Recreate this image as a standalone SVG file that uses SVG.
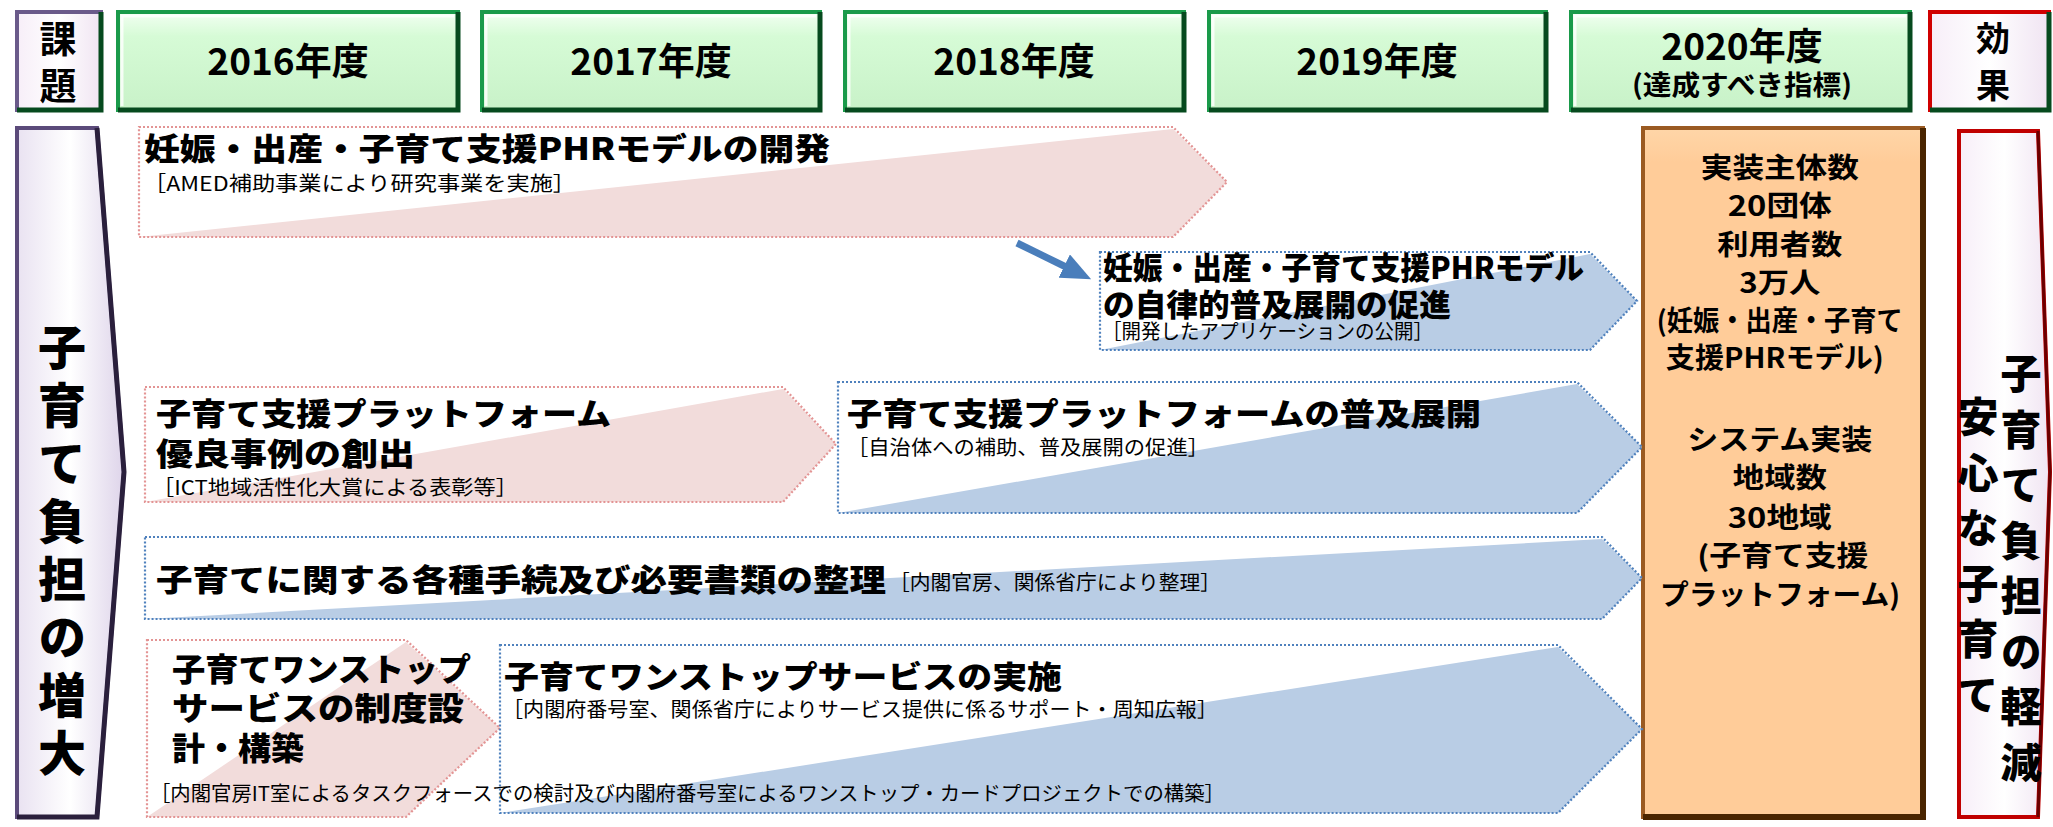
<svg xmlns="http://www.w3.org/2000/svg" width="2053" height="827" viewBox="0 0 2053 827">
<defs>
<linearGradient id="gG" x1="0" y1="0" x2="0" y2="1">
<stop offset="0" stop-color="#f2fff2"/><stop offset="0.25" stop-color="#d6fbd6"/><stop offset="1" stop-color="#c8f2c8"/>
</linearGradient>
<linearGradient id="gP" x1="0" y1="0" x2="1" y2="0">
<stop offset="0" stop-color="#e9e2f1"/><stop offset="0.5" stop-color="#ffffff"/><stop offset="1" stop-color="#ded4ea"/>
</linearGradient>
<linearGradient id="gR" x1="0" y1="0" x2="1" y2="0">
<stop offset="0" stop-color="#f7eef8"/><stop offset="0.5" stop-color="#ffffff"/><stop offset="1" stop-color="#f0e4f2"/>
</linearGradient>
<linearGradient id="gO" x1="0" y1="0" x2="0" y2="1">
<stop offset="0" stop-color="#ffd6a8"/><stop offset="0.05" stop-color="#ffcc99"/><stop offset="1" stop-color="#ffcc99"/>
</linearGradient>
<marker id="ah" markerUnits="userSpaceOnUse" markerWidth="30" markerHeight="26" refX="2" refY="13" orient="auto">
<path d="M0,0 L30,13 L0,26 Z" fill="#4a7ebb"/>
</marker>
</defs>
<style>
.t{font-family:"Noto Sans CJK JP","Noto Sans",sans-serif;fill:#000}
.b{font-weight:bold}
.yb{fill:url(#gG);stroke:#1a9a4a;stroke-width:4}
.ys{fill:none;stroke:#064a1e;stroke-width:5}
.hl{fill:none;stroke:#ffffff;stroke-opacity:0.8;stroke-width:3}
.pk{fill:#f2dcdb}
.bl{fill:#b9cde5}
.pko{fill:none;stroke:#e39494;stroke-width:2.2;stroke-dasharray:2 2}
.blo{fill:none;stroke:#4f81bd;stroke-width:2.2;stroke-dasharray:2 2}
.h{font-size:37px}
.ti{font-size:31px;font-weight:900}
.su{font-size:20px;font-weight:normal}
.or{font-size:28px}
.v{writing-mode:vertical-rl;font-weight:900}
</style>
<rect width="2053" height="827" fill="#ffffff"/>

<g id="hdr-kadai">
<rect x="17" y="12" width="84" height="98" fill="url(#gR)" stroke="#6a5a8a" stroke-width="4"/>
<polyline class="ys" points="101,12 101,110 17,110" stroke="#2e2342"/>
<text class="t b h" text-anchor="middle"><tspan x="58" y="53">課</tspan><tspan x="58" y="100">題</tspan></text>
</g>

<g id="hdr-2016">
<rect class="yb" x="118" y="12" width="340" height="98"/>
<polyline class="hl" points="122,106 122,16 454,16"/>
<polyline class="ys" points="458,12 458,110 118,110"/>
<text class="t b h" x="288" y="75" text-anchor="middle">2016年度</text>
</g>
<g id="hdr-2017">
<rect class="yb" x="482" y="12" width="338" height="98"/>
<polyline class="hl" points="486,106 486,16 816,16"/>
<polyline class="ys" points="820,12 820,110 482,110"/>
<text class="t b h" x="651" y="75" text-anchor="middle">2017年度</text>
</g>
<g id="hdr-2018">
<rect class="yb" x="845" y="12" width="339" height="98"/>
<polyline class="hl" points="849,106 849,16 1180,16"/>
<polyline class="ys" points="1184,12 1184,110 845,110"/>
<text class="t b h" x="1014" y="75" text-anchor="middle">2018年度</text>
</g>
<g id="hdr-2019">
<rect class="yb" x="1209" y="12" width="337" height="98"/>
<polyline class="hl" points="1213,106 1213,16 1542,16"/>
<polyline class="ys" points="1546,12 1546,110 1209,110"/>
<text class="t b h" x="1377" y="75" text-anchor="middle">2019年度</text>
</g>
<g id="hdr-2020">
<rect class="yb" x="1571" y="12" width="339" height="98"/>
<polyline class="hl" points="1575,106 1575,16 1906,16"/>
<polyline class="ys" points="1910,12 1910,110 1571,110"/>
<text class="t b" text-anchor="middle"><tspan x="1742" y="60" font-size="37">2020年度</tspan><tspan x="1742" y="95" font-size="27" textLength="220" lengthAdjust="spacingAndGlyphs">(達成すべき指標)</tspan></text>
</g>
<g id="hdr-kouka">
<rect x="1930" y="12" width="119" height="98" fill="url(#gR)" stroke="#d00000" stroke-width="4"/>
<polyline class="ys" points="2049,12 2049,110 1930,110" stroke="#8a0000" stroke-width="3"/>
<text class="t b" font-size="34" text-anchor="middle"><tspan x="1993" y="51">効</tspan><tspan x="1993" y="98">果</tspan></text>
</g>

<g id="panel-left">
<polygon points="17,128 97,128 124,472 97,817 17,817" fill="url(#gP)" stroke="#5b4a7a" stroke-width="4"/>
<polyline points="97,128 124,472 97,817 17,817" fill="none" stroke="#2a1f3c" stroke-width="5"/>
<text class="t v" font-size="48" letter-spacing="10" x="62" y="323">子育て負担の増大</text>
</g>

<g id="box-target">
<rect x="1643" y="128" width="280" height="689" fill="url(#gO)" stroke="#9a5a22" stroke-width="4"/>
<polyline points="1923,128 1923,817 1643,817" fill="none" stroke="#4a2500" stroke-width="6"/>
<text class="t b or" text-anchor="middle">
<tspan x="1783" y="178" textLength="158" lengthAdjust="spacingAndGlyphs">実装主体数</tspan>
<tspan x="1783" y="216" textLength="104" lengthAdjust="spacingAndGlyphs">20団体</tspan>
<tspan x="1783" y="255" textLength="125" lengthAdjust="spacingAndGlyphs">利用者数</tspan>
<tspan x="1783" y="293" textLength="81" lengthAdjust="spacingAndGlyphs">3万人</tspan>
<tspan x="1783" y="331" textLength="246" lengthAdjust="spacingAndGlyphs">(妊娠・出産・子育て</tspan>
<tspan x="1778" y="368" textLength="218" lengthAdjust="spacingAndGlyphs">支援PHRモデル)</tspan>
<tspan x="1783" y="450" textLength="185" lengthAdjust="spacingAndGlyphs">システム実装</tspan>
<tspan x="1783" y="488" textLength="94" lengthAdjust="spacingAndGlyphs">地域数</tspan>
<tspan x="1783" y="528" textLength="104" lengthAdjust="spacingAndGlyphs">30地域</tspan>
<tspan x="1786" y="566" textLength="171" lengthAdjust="spacingAndGlyphs">(子育て支援</tspan>
<tspan x="1780" y="605" textLength="240" lengthAdjust="spacingAndGlyphs">プラットフォーム)</tspan>
</text>
</g>

<g id="panel-right">
<polygon points="1959,131 2038,131 2050,472 2038,817 1959,817" fill="url(#gR)" stroke="#c00000" stroke-width="4"/>
<polyline points="2038,131 2050,472 2038,817" fill="none" stroke="#6a0000" stroke-width="3"/>
<text class="t v" font-size="41" letter-spacing="14.5" x="2021" y="353">子育て負担の軽減</text>
<text class="t v" font-size="41" letter-spacing="14.5" x="1978" y="396">安心な子育て</text>
</g>

<g id="phr-dev">
<polygon class="pk" points="139,237 1173,129 1227,182 1173,237"/>
<polygon class="pko" points="139,127 1173,127 1227,182 1173,237 139,237"/>
<text class="t"><tspan class="ti" x="144" y="160" textLength="686" lengthAdjust="spacingAndGlyphs">妊娠・出産・子育て支援PHRモデルの開発</tspan><tspan class="su" x="143" y="191" textLength="433" lengthAdjust="spacingAndGlyphs">［AMED補助事業により研究事業を実施］</tspan></text>
</g>

<g id="phr-spread">
<polygon class="bl" points="1100,350 1590,254 1637,301 1590,350"/>
<polygon class="blo" points="1100,252 1590,252 1637,301 1590,350 1100,350"/>
<text class="t"><tspan class="ti" x="1103" y="279" textLength="481" lengthAdjust="spacingAndGlyphs">妊娠・出産・子育て支援PHRモデル</tspan><tspan class="ti" x="1103" y="316" textLength="348" lengthAdjust="spacingAndGlyphs">の自律的普及展開の促進</tspan><tspan class="su" x="1102" y="339" textLength="331" lengthAdjust="spacingAndGlyphs">［開発したアプリケーションの公開］</tspan></text>
</g>

<g id="pf-best">
<polygon class="pk" points="145,502 783,389 836,444 783,502"/>
<polygon class="pko" points="145,387 783,387 836,444 783,502 145,502"/>
<text class="t"><tspan class="ti" x="156" y="425" textLength="455" lengthAdjust="spacingAndGlyphs">子育て支援プラットフォーム</tspan><tspan class="ti" x="156" y="465" textLength="259" lengthAdjust="spacingAndGlyphs">優良事例の創出</tspan><tspan class="su" x="152" y="495" textLength="366" lengthAdjust="spacingAndGlyphs">［ICT地域活性化大賞による表彰等］</tspan></text>
</g>

<g id="pf-spread">
<polygon class="bl" points="838,513 1577,384 1642,447 1577,513"/>
<polygon class="blo" points="838,382 1577,382 1642,447 1577,513 838,513"/>
<text class="t"><tspan class="ti" x="847" y="425" textLength="634" lengthAdjust="spacingAndGlyphs">子育て支援プラットフォームの普及展開</tspan><tspan class="su" x="847" y="455" textLength="362" lengthAdjust="spacingAndGlyphs">［自治体への補助、普及展開の促進］</tspan></text>
</g>

<g id="procedures">
<polygon class="bl" points="145,619 1602,539 1642,578 1602,619"/>
<polygon class="blo" points="145,537 1602,537 1642,578 1602,619 145,619"/>
<text class="t"><tspan class="ti" x="156" y="591" textLength="730" lengthAdjust="spacingAndGlyphs">子育てに関する各種手続及び必要書類の整理</tspan><tspan class="su" x="889" y="590" textLength="332" lengthAdjust="spacingAndGlyphs">［内閣官房、関係省庁により整理］</tspan></text>
</g>

<g id="onestop-design">
<polygon class="pk" points="147,817 406,642 500,728 406,817"/>
<polygon class="pko" points="147,640 406,640 500,728 406,817 147,817"/>
<text class="t" font-size="32" font-weight="900"><tspan x="172" y="681" textLength="299" lengthAdjust="spacingAndGlyphs">子育てワンストップ</tspan><tspan x="172" y="720" textLength="292" lengthAdjust="spacingAndGlyphs">サービスの制度設</tspan><tspan x="172" y="760" textLength="132" lengthAdjust="spacingAndGlyphs">計・構築</tspan></text>
</g>

<g id="onestop-run">
<polygon class="bl" points="500,813 1558,647 1642,729 1558,813"/>
<polygon class="blo" points="500,645 1558,645 1642,729 1558,813 500,813"/>
<text class="t"><tspan class="ti" x="504" y="688" textLength="558" lengthAdjust="spacingAndGlyphs">子育てワンストップサービスの実施</tspan><tspan class="su" x="502" y="717" textLength="716" lengthAdjust="spacingAndGlyphs">［内閣府番号室、関係省庁によりサービス提供に係るサポート・周知広報］</tspan></text>
</g>
<text id="onestop-note" class="t su" x="150" y="801" textLength="1075" lengthAdjust="spacingAndGlyphs">［内閣官房IT室によるタスクフォースでの検討及び内閣府番号室によるワンストップ・カードプロジェクトでの構築］</text>

<g id="connectors">
<line x1="1017" y1="243" x2="1066" y2="267" stroke="#4a7ebb" stroke-width="7" marker-end="url(#ah)"/>
</g>
</svg>
